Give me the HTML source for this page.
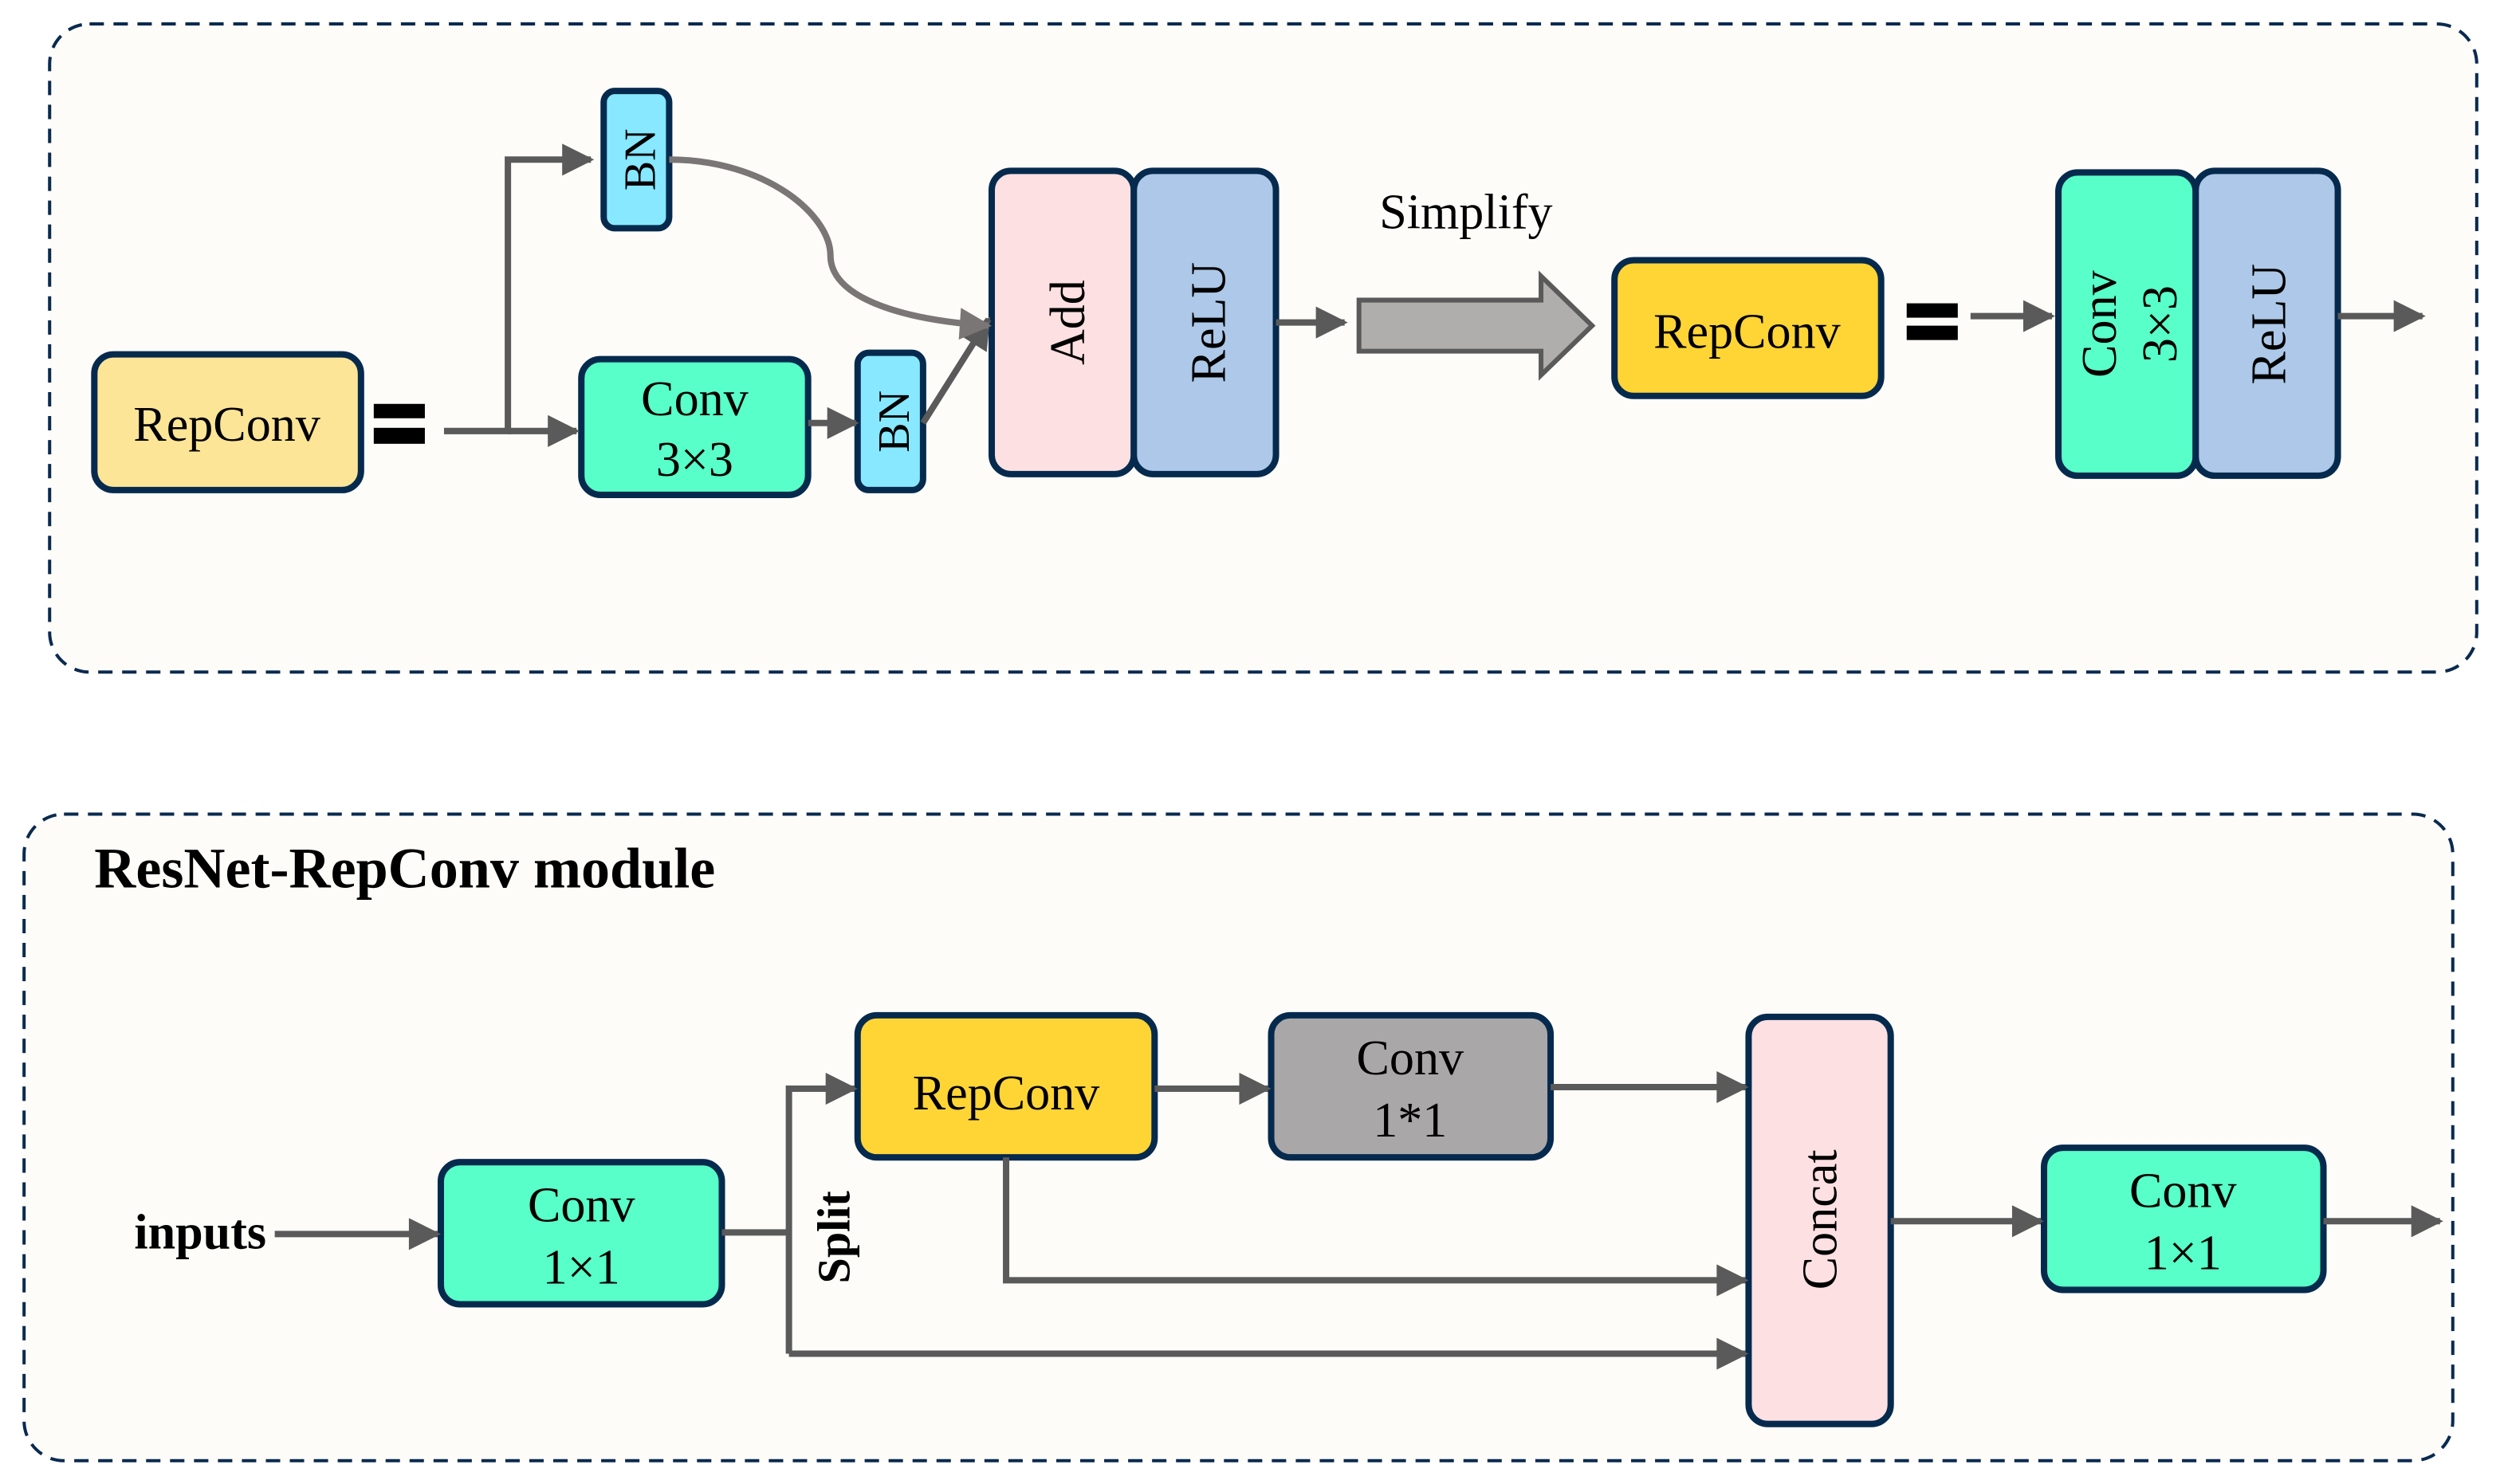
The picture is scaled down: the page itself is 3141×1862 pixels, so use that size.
<!DOCTYPE html>
<html><head><meta charset="utf-8"><style>html,body{margin:0;padding:0;background:#fff}svg{display:block}</style></head><body>
<svg width="3141" height="1862" viewBox="0 0 1568 929.6" xmlns="http://www.w3.org/2000/svg" font-family="'Liberation Serif', serif">
<defs>
<marker id="ah" viewBox="0 0 10 10" refX="9" refY="5" markerWidth="5.5" markerHeight="5" orient="auto" markerUnits="strokeWidth"><path d="M0,0 L10,5 L0,10 z" fill="#5a5a5a"/></marker>
<marker id="ah2" viewBox="0 0 10 10" refX="9" refY="5" markerWidth="5.5" markerHeight="5" orient="auto" markerUnits="strokeWidth"><path d="M0,0 L10,5 L0,10 z" fill="#7a7676"/></marker>
</defs>
<rect width="1568" height="930" fill="#fff"/>
<rect x="31" y="15" width="1520" height="406" rx="25" fill="#fdfcf8" stroke="#0a2a4f" stroke-width="2" stroke-dasharray="9,6"/>
<rect x="15" y="510" width="1521" height="405" rx="25" fill="#fdfcf8" stroke="#0a2a4f" stroke-width="2" stroke-dasharray="9,6"/>
<g stroke="#062a4d" stroke-width="4">
<rect x="59" y="222" width="167" height="85" rx="12" fill="#fde597"/>
<rect x="378" y="57" width="41" height="86" rx="7" fill="#87e8ff"/>
<rect x="364" y="225" width="142" height="85" rx="12" fill="#58ffc8"/>
<rect x="537" y="221" width="41" height="86" rx="7" fill="#87e8ff"/>
<rect x="621" y="107" width="89" height="190" rx="12" fill="#fde0e2"/>
<rect x="710" y="107" width="89" height="190" rx="12" fill="#adc8e8"/>
<rect x="1011" y="163" width="167" height="85" rx="12" fill="#ffd535"/>
<rect x="1289" y="108" width="86" height="190" rx="12" fill="#58ffc8"/>
<rect x="1375" y="107" width="89" height="191" rx="12" fill="#adc8e8"/>
<rect x="276" y="728" width="176" height="89" rx="12" fill="#58ffc8"/>
<rect x="537" y="636" width="186" height="89" rx="12" fill="#ffd535"/>
<rect x="796" y="636" width="175" height="89" rx="12" fill="#a9a7a7"/>
<rect x="1095" y="637" width="89" height="255" rx="12" fill="#fde0e2"/>
<rect x="1280" y="719" width="175" height="89" rx="12" fill="#58ffc8"/>
</g>
<g fill="#000">
<rect x="234" y="253" width="32" height="9"/><rect x="234" y="268" width="32" height="10"/>
<rect x="1194" y="190" width="32" height="9"/><rect x="1194" y="204" width="32" height="9"/>
</g>
<g stroke="#5a5a5a" stroke-width="4" fill="none">
<path d="M278,270 L318,270 L318,100 L370,100" marker-end="url(#ah)"/>
<path d="M318,270 L361,270" marker-end="url(#ah)"/>
<path d="M506,265 L536,265" marker-end="url(#ah)"/>
<path d="M578,265 L619,200" marker-end="url(#ah)"/>
<path d="M799,202 L842,202" marker-end="url(#ah)"/>
<path d="M1234,198 L1285,198" marker-end="url(#ah)"/>
<path d="M1464,198 L1517,198" marker-end="url(#ah)"/>
<path d="M172,773 L274,773" marker-end="url(#ah)"/>
<path d="M452,772 L494,772"/>
<path d="M494,848 L494,682 L535,682" marker-end="url(#ah)"/>
<path d="M494,848 L1093,848" marker-end="url(#ah)"/>
<path d="M723,682 L794,682" marker-end="url(#ah)"/>
<path d="M971,681 L1093,681" marker-end="url(#ah)"/>
<path d="M630,725 L630,802 L1093,802" marker-end="url(#ah)"/>
<path d="M1184,765 L1278,765" marker-end="url(#ah)"/>
<path d="M1455,765 L1528,765" marker-end="url(#ah)"/>
</g>
<path d="M419,100 C480,100 520,135 520,160 C520,185 560,200 619,204" stroke="#7a7676" stroke-width="4" fill="none" marker-end="url(#ah2)"/>
<polygon points="851,188 965,188 965,173 997,204 965,235 965,220 851,220" fill="#b0aeac" stroke="#5a5a5a" stroke-width="3"/>
<g font-size="31" text-anchor="middle" fill="#000">
<text x="142" y="276">RepConv</text>
<text x="435" y="260">Conv</text>
<text x="435" y="298">3×3</text>
<text x="1094" y="218">RepConv</text>
<text x="918" y="143">Simplify</text>
<text x="364" y="765">Conv</text>
<text x="364" y="804">1×1</text>
<text x="630" y="695">RepConv</text>
<text x="883" y="673">Conv</text>
<text x="883" y="712">1*1</text>
<text x="1367" y="756">Conv</text>
<text x="1367" y="795">1×1</text>
<text transform="translate(410,100) rotate(-90)" font-size="28">BN</text>
<text transform="translate(569,264) rotate(-90)" font-size="28">BN</text>
<text transform="translate(679,202) rotate(-90)">Add</text>
<text transform="translate(767,202) rotate(-90)">ReLU</text>
<text transform="translate(1325,203) rotate(-90)">Conv</text>
<text transform="translate(1363,203) rotate(-90)">3×3</text>
<text transform="translate(1431,203) rotate(-90)">ReLU</text>
<text transform="translate(1150,764) rotate(-90)">Concat</text>
</g>
<g font-weight="bold" fill="#000">
<text x="59" y="556" font-size="36">ResNet-RepConv module</text>
<text x="84" y="782" font-size="31">inputs</text>
<text transform="translate(532,775) rotate(-90)" font-size="29" text-anchor="middle">Split</text>
</g>
</svg>
</body></html>
